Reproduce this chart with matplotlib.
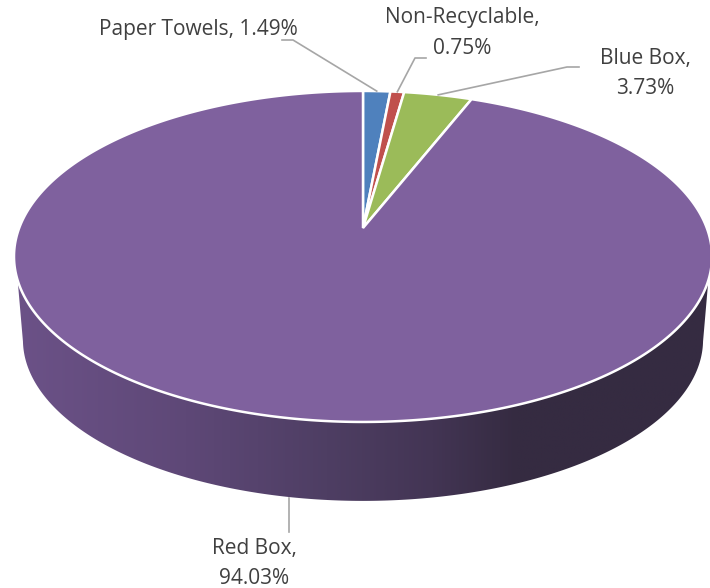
import numpy as np
import matplotlib
matplotlib.use("Agg")
import matplotlib.pyplot as plt
from matplotlib.colors import LinearSegmentedColormap
from matplotlib.patches import Polygon

plt.rcParams["font.family"] = ["Open Sans", "DejaVu Sans"]

## data
names = ["Paper Towels", "Non-Recyclable", "Blue Box", "Red Box"]
shares = np.array([1.49, 0.75, 3.73, 94.03])
colors = ["#4F81BD", "#C0504D", "#9BBB59", "#7F619E"]

## pie geometry in pixels, seen from above with some perspective
cx = 363.0
k = 0.172
a_top, b_top, y_top = 343.8, 160.6, 228.0
a_low, b_low, y_low = 335.0, 156.4, 312.0


def project(theta, a, b, y0):
    # theta is clockwise from twelve o'clock
    u = np.sin(theta)
    v = np.cos(theta)
    return cx + a*u/(1 + k*v), y0 - b*v/(1 + k*v)


edges = np.hstack((0, np.cumsum(shares)))/shares.sum()*2*np.pi
mids = (edges[:-1] + edges[1:])/2

fig = plt.figure(figsize=(7.10, 5.88), dpi=100)
ax = fig.add_axes([0, 0, 1, 1])
ax.set_xlim(0, 710)
ax.set_ylim(588, 0)
ax.axis("off")

## side wall, a horizontal gradient clipped to the front of the rims
t = np.linspace(0, 2*np.pi, 721)
xt, yt = project(t, a_top, b_top, y_top)
xl, yl = project(t, a_low, b_low, y_low)

front = yt >= 280
low = yl >= 340
order_t = np.argsort(xt[front])
order_l = np.argsort(xl[low])[::-1]
wall = np.vstack((np.column_stack((xt[front][order_t], yt[front][order_t])),
                  np.column_stack((xl[low][order_l], yl[low][order_l]))))

shade = LinearSegmentedColormap.from_list("wall", [(0.0, "#6C5288"), (0.25, "#5E4877"),
                                                   (0.45, "#4E3E63"), (0.60, "#433554"),
                                                   (0.72, "#352B41"), (1.0, "#352B41")])
im = ax.imshow(np.linspace(0, 1, 512)[None, :], cmap=shade, extent=(10, 715, 510, 270),
               aspect="auto", zorder=1)
clip = Polygon(wall, closed=True, transform=ax.transData, facecolor="none", edgecolor="none")
ax.add_patch(clip)
im.set_clip_path(clip)
ax.set_xlim(0, 710)
ax.set_ylim(588, 0)

## top face
for i in range(len(shares)):
    th = np.linspace(edges[i], edges[i+1], max(int((edges[i+1] - edges[i])*100), 2))
    xs, ys = project(th, a_top, b_top, y_top)
    xs = np.hstack((cx, xs))
    ys = np.hstack((y_top, ys))
    ax.fill(xs, ys, facecolor=colors[i], edgecolor="white", linewidth=1.8, joinstyle="miter", zorder=2)

## leader lines: elbows are placed by hand, the start comes from the slice middle
mx, my = project(mids, a_top, b_top, y_top)
line_c = "#A6A6A6"
ax.plot([mx[0], 293, 282], [my[0], 40, 40], color=line_c, lw=1.2, zorder=3)
ax.plot([mx[1], 415, 426], [my[1], 58, 58], color=line_c, lw=1.2, zorder=3)
ax.plot([mx[2], 567, 579], [my[2], 67, 67], color=line_c, lw=1.2, zorder=3)
ax.plot([289, 289], [498, 532], color=line_c, lw=1.2, zorder=3)

## labels
txt = dict(color="#404040", fontsize=15, ha="center", va="center", zorder=4)
ax.text(198.5, 29.5, "{:s}, {:.2f}%".format(names[0], shares[0]), **txt)
ax.text(462.5, 17.5, names[1] + ",", **txt)
ax.text(462.5, 48.5, "{:.2f}%".format(shares[1]), **txt)
ax.text(645.5, 58.5, names[2] + ",", **txt)
ax.text(645.5, 88.5, "{:.2f}%".format(shares[2]), **txt)
ax.text(254.5, 548.5, names[3] + ",", **txt)
ax.text(254.5, 578.5, "{:.2f}%".format(shares[3]), **txt)

plt.savefig("out.png", dpi=100)
plt.close(fig)
